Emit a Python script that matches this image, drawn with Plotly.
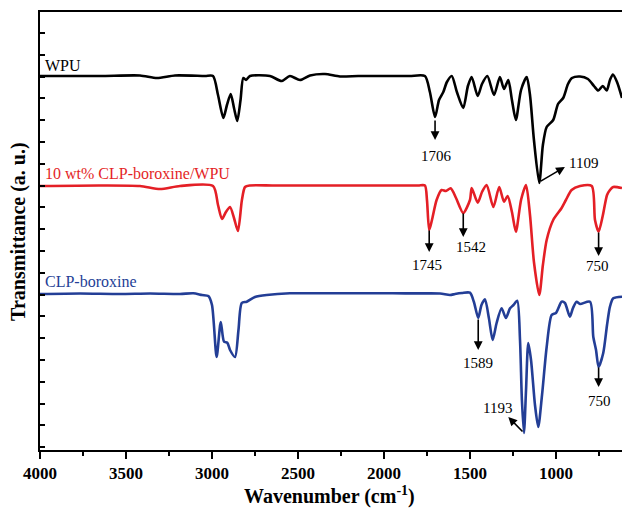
import plotly.graph_objects as go

# ---------------- data (wavenumber cm-1, transmittance a.u.) ----------------
wpu_wn = [4000, 3651, 3419, 3320, 3215, 3041, 2994, 2965, 2934, 2913, 2891, 2872, 2853, 2834,
          2818, 2802, 2779, 2663, 2595, 2547, 2488, 2430, 2343, 2256, 2150, 2050, 1950, 1850,
          1762, 1733, 1703,
          1680, 1655, 1634, 1606, 1576, 1539, 1512, 1490, 1455, 1430, 1399, 1360, 1326, 1302,
          1277, 1256, 1233, 1203, 1170, 1151, 1128, 1097, 1076, 1054, 1016, 988, 958, 930, 907,
          860, 814, 779, 754, 728, 705, 686, 669, 645, 616]
wpu_t = [374, 374, 374.5, 372, 374.5, 374, 374, 355, 332, 345, 356, 342, 329, 350,
         372, 370, 374, 374, 369, 374, 370, 374.5, 376, 373.5, 374, 374, 374, 374,
         374, 358, 333,
         350, 358, 368, 374, 358, 342, 364, 373, 354, 366, 374, 355, 373, 361,
         370, 350, 330, 360, 373, 355, 310, 267, 305, 323, 330, 346, 352, 366, 372,
         373.5, 371, 364, 359.5, 364, 359.5, 370, 375.5, 368, 352]

comp_wn = [4000, 3651, 3419, 3302, 3186, 2994, 2965, 2942, 2919, 2895, 2872, 2849, 2826, 2808,
           2779, 2650, 2500, 2350, 2200, 2050, 1900, 1800, 1762, 1750, 1737, 1721, 1694, 1665,
           1640, 1612, 1581, 1539, 1500, 1490, 1455,
           1430, 1403, 1364, 1330, 1302, 1281, 1256, 1233, 1203, 1174, 1151, 1128, 1097, 1076,
           1054, 1016, 967, 942, 909, 860, 792, 773, 752, 727, 703, 686, 667, 616]
comp_t = [264, 264.5, 264, 261, 264, 264, 245, 231, 238, 243, 232, 219, 250, 263,
          264.5, 264.5, 264.5, 264.5, 264.5, 264.5, 264.5, 264.5, 264.5, 250, 220, 230, 250, 260,
          259, 261.7, 252, 237, 250, 262, 247.3,
          258, 265, 243, 263, 248.3, 254, 238, 218.3, 250, 265, 235, 188, 155, 185,
          210, 230, 242, 250, 260, 264, 264, 230, 218.3, 235, 255, 260, 263, 262]

clp_wn = [4000, 3767, 3535, 3360, 3186, 3109, 3058, 3021, 3000, 2973, 2949, 2930, 2911, 2895,
          2866, 2846, 2827, 2798, 2750, 2682, 2547, 2400, 2250, 2100, 1950, 1800, 1674, 1616,
          1587, 1546, 1500, 1477,
          1452, 1433, 1413, 1390, 1368, 1345, 1316, 1291, 1267, 1247, 1225, 1209, 1198, 1186,
          1174, 1161, 1145, 1122, 1103, 1081, 1054, 1025, 1000, 967, 948, 919, 901, 880, 860,
          802, 783, 767, 752, 725, 703, 686, 667, 616]
clp_t = [156, 156.5, 156, 156.5, 156, 156.7, 155, 154, 145, 93, 128, 108.3, 107.3, 100,
         93, 120, 147, 148.3, 153, 155, 156.7, 156.7, 156.7, 156.7, 156.7, 156.6, 156.5, 155,
         156, 157, 157.3, 148,
         132, 145, 150.7, 132, 110, 127, 141.7, 132, 141.7, 145, 149.3, 110, 50, 17,
         60, 107, 90, 45, 23, 55, 103, 135, 137, 148.3, 147, 133.3, 142, 148.3, 146,
         148.3, 113.3, 100, 83, 97, 125, 143.3, 151.7, 153.3]

series_names = ["WPU", "10 wt% CLP-boroxine/WPU", "CLP-boroxine"]
series_colors = ["#000000", "#e41f26", "#233e96"]

# peak labels: (text, curve-min wn, curve-min T, arrow-head wn, arrow-head T, text wn, text T)
peak_labels = [
    ("1706", 1703, 331, 1703, 310, 1694, 294),
    ("1109", 1097, 268, 948, 283, 935, 287),
    ("1745", 1737, 221, 1737, 198, 1752, 185),
    ("1542", 1539, 238, 1539, 213, 1496, 203),
    ("750", 752, 219, 752, 194, 760, 184),
    ("1589", 1452, 132, 1452, 100, 1452, 87),
    ("1193", 1186, 17, 1277, 33, 1341, 42),
    ("750", 752, 84, 752, 63, 744, 49),
]

x_ticks = [4000, 3500, 3000, 2500, 2000, 1500, 1000]

FONT = "Liberation Serif"

fig = go.Figure()
for wn, t, name, col in zip([wpu_wn, comp_wn, clp_wn], [wpu_t, comp_t, clp_t],
                            series_names, series_colors):
    fig.add_trace(go.Scatter(x=wn, y=t, mode="lines", name=name,
                             line=dict(color=col, width=2.6, shape="spline", smoothing=0.7),
                             showlegend=False))

# series labels
label_pos = [(3985, 385), (3985, 277), (3985, 169)]
for (lx, ly), name, col in zip(label_pos, series_names, series_colors):
    fig.add_annotation(x=lx, y=ly, text=name, showarrow=False, xanchor="left", yanchor="middle",
                       font=dict(family=FONT, size=16, color=col))

for txt, tx, ty, hx, hy, lx, ly in peak_labels:
    fig.add_annotation(x=hx, y=hy, ax=tx, ay=ty, axref="x", ayref="y", text="",
                       showarrow=True, arrowhead=2, arrowsize=1.1, arrowwidth=1.6,
                       arrowcolor="black", standoff=0, startstandoff=0)
    anchor = "left" if txt == "1109" else "center"
    fig.add_annotation(x=lx, y=ly, text=txt, showarrow=False, xanchor=anchor, yanchor="middle",
                       font=dict(family=FONT, size=15, color="black"))

# axis titles
fig.add_annotation(xref="paper", yref="paper", x=-0.038, y=0.50, text="Transmittance (a. u.)",
                   textangle=-90, showarrow=False, xanchor="center", yanchor="middle",
                   font=dict(family=FONT, size=20, color="black", weight="bold"))
fig.add_annotation(xref="paper", yref="paper", x=0.498, y=-0.103,
                   text="Wavenumber (cm<sup>-1</sup>)",
                   showarrow=False, xanchor="center", yanchor="middle",
                   font=dict(family=FONT, size=20, color="black", weight="bold"))

fig.update_layout(
    width=622, height=514,
    margin=dict(l=40, r=0, t=12, b=64),
    plot_bgcolor="white", paper_bgcolor="white",
    xaxis=dict(range=[4000, 616], tickmode="array", tickvals=x_ticks,
               ticktext=[str(v) for v in x_ticks],
               ticks="outside", ticklen=7, tickwidth=2, tickcolor="black",
               minor=dict(ticks="outside", ticklen=4, tickwidth=2, tickcolor="black",
                          tickvals=[3750, 3250, 2750, 2250, 1750, 1250, 750]),
               showline=True, linewidth=2, linecolor="black", mirror=True,
               showgrid=False, zeroline=False,
               tickfont=dict(family=FONT, size=17, color="black", weight="bold")),
    yaxis=dict(range=[0, 438], tickmode="linear", tick0=2.9, dtick=21.8,
               ticks="inside", ticklen=5, tickwidth=1.5, tickcolor="black",
               showticklabels=False, showline=True, linewidth=2, linecolor="black",
               showgrid=False, zeroline=False),
)

fig.write_html("out.html")
